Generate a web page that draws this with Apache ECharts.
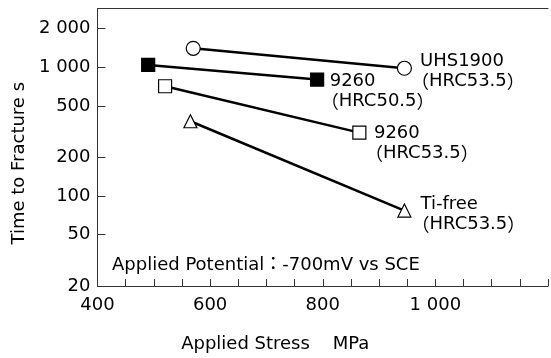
<!DOCTYPE html>
<html>
<head>
<meta charset="utf-8">
<script src="https://cdn.jsdelivr.net/npm/echarts@6/dist/echarts.min.js"></script>
<style>
  html, body { margin: 0; padding: 0; background: #fff; }
  #chart { width: 551px; height: 358px; }
</style>
</head>
<body>
<div id="chart"></div>
<script>
// Steel grades and their hardness
const seriesNames = ['UHS1900', '9260', '9260', 'Ti-free'];
const hardness = ['HRC53.5', 'HRC50.5', 'HRC53.5', 'HRC53.5'];
const markers = ['circle', 'rect', 'rect', 'triangle'];

// Applied stress (MPa) and time to fracture (s) per grade
const stressUHS = [570, 945];
const timeUHS = [1400, 980];
const stress9260a = [490, 790];
const time9260a = [1040, 800];
const stress9260b = [520, 865];
const time9260b = [710, 310];
const stressTi = [565, 945];
const timeTi = [380, 77];

// Axis ticks
const yTicks = [20, 50, 100, 200, 500, 1000, 2000];
const xTickStep = 50;
const xLabelStep = 200;

const FONT = "'DejaVu Sans', 'Noto Sans CJK JP', sans-serif";
const CJK = "'Noto Sans CJK JP', sans-serif";
const INK = '#000';
const AXIS = '#333';

function thousands(v) {
  const s = String(Math.round(v));
  return s.length > 3 ? s.slice(0, s.length - 3) + ' ' + s.slice(-3) : s;
}

const stressSets = [stressUHS, stress9260a, stress9260b, stressTi];
const timeSets = [timeUHS, time9260a, time9260b, timeTi];
const labelOffsets = [[-1, 3], [-3.5, 11.5], [-1.5, 10.5], [0, 3.5]];
const symbolSizes = [14, 13, 13, 13];
const fills = ['#fff', '#000', '#fff', '#fff'];

const textRich = {
  a: { fontFamily: FONT, fontSize: 18, color: INK, lineHeight: 20, padding: [0, 0, 0, 9] },
  b: { fontFamily: FONT, fontSize: 18, color: INK, lineHeight: 20 },
  p: { fontFamily: CJK, fontSize: 18, color: INK, lineHeight: 20 }
};

const series = seriesNames.map((name, i) => {
  const xs = stressSets[i], ys = timeSets[i];
  const data = xs.map((x, k) => {
    const item = { value: [x, ys[k]] };
    if (k === xs.length - 1) {
      item.label = {
        show: true,
        position: 'right',
        distance: 0,
        offset: labelOffsets[i],
        formatter: '{a|' + name + '}\n{p|（}{b|' + hardness[i] + '}{p|）}',
        rich: textRich
      };
    }
    return item;
  });
  return {
    type: 'line',
    name: name + ' ' + hardness[i],
    data: data,
    symbol: markers[i],
    symbolSize: symbolSizes[i],
    showAllSymbol: true,
    lineStyle: { color: INK, width: 2.5 },
    itemStyle: { color: fills[i], borderColor: INK, borderWidth: 1.2 },
    label: { show: false, fontFamily: FONT, fontSize: 18, color: INK },
    emphasis: { disabled: true },
    animation: false,
    z: 3
  };
});

const chart = echarts.init(document.getElementById('chart'), null, { renderer: 'canvas' });
chart.setOption({
  backgroundColor: '#fff',
  animation: false,
  textStyle: { fontFamily: FONT },
  grid: { left: 97.5, right: -1.5, top: 8.5, bottom: 67, containLabel: false },
  xAxis: [{
    type: 'value',
    min: 400,
    max: 1200,
    interval: xTickStep,
    name: 'Applied Stress    MPa',
    nameLocation: 'middle',
    nameGap: 49,
    nameTextStyle: { fontFamily: FONT, fontSize: 18, color: INK, padding: [0, 95, 0, 0] },
    axisLine: { show: true, lineStyle: { color: AXIS, width: 1 } },
    axisTick: { show: true, inside: true, length: 7, lineStyle: { color: AXIS, width: 1 } },
    axisLabel: {
      fontFamily: FONT, fontSize: 18, color: INK, margin: 10,
      formatter: v => (v % xLabelStep === 0 && v < 1200) ? thousands(v) : ''
    },
    splitLine: { show: false }
  }, {
    type: 'value',
    position: 'top',
    min: 400,
    max: 1200,
    axisLine: { show: true, lineStyle: { color: AXIS, width: 1 } },
    axisTick: { show: false },
    axisLabel: { show: false },
    splitLine: { show: false }
  }],
  yAxis: {
    type: 'log',
    logBase: 10,
    min: 20,
    max: 2850,
    name: 'Time to Fracture s',
    nameLocation: 'middle',
    nameGap: 62,
    nameTextStyle: { fontFamily: FONT, fontSize: 18, color: INK, padding: [0, 32, 0, 0] },
    axisLine: { show: true, lineStyle: { color: AXIS, width: 1 } },
    axisTick: { show: true, inside: true, length: 8, customValues: yTicks, lineStyle: { color: AXIS, width: 1 } },
    axisLabel: {
      fontFamily: FONT, fontSize: 18, color: INK, margin: 7,
      customValues: yTicks,
      formatter: v => thousands(v)
    },
    splitLine: { show: false },
    minorTick: { show: false }
  },
  graphic: [{
    type: 'text',
    left: 112,
    top: 256,
    style: {
      text: 'Applied Potential：-700mV vs SCE',
      fontFamily: FONT,
      fontSize: 18,
      fill: INK
    }
  }],
  series: series
});
</script>
</body>
</html>
